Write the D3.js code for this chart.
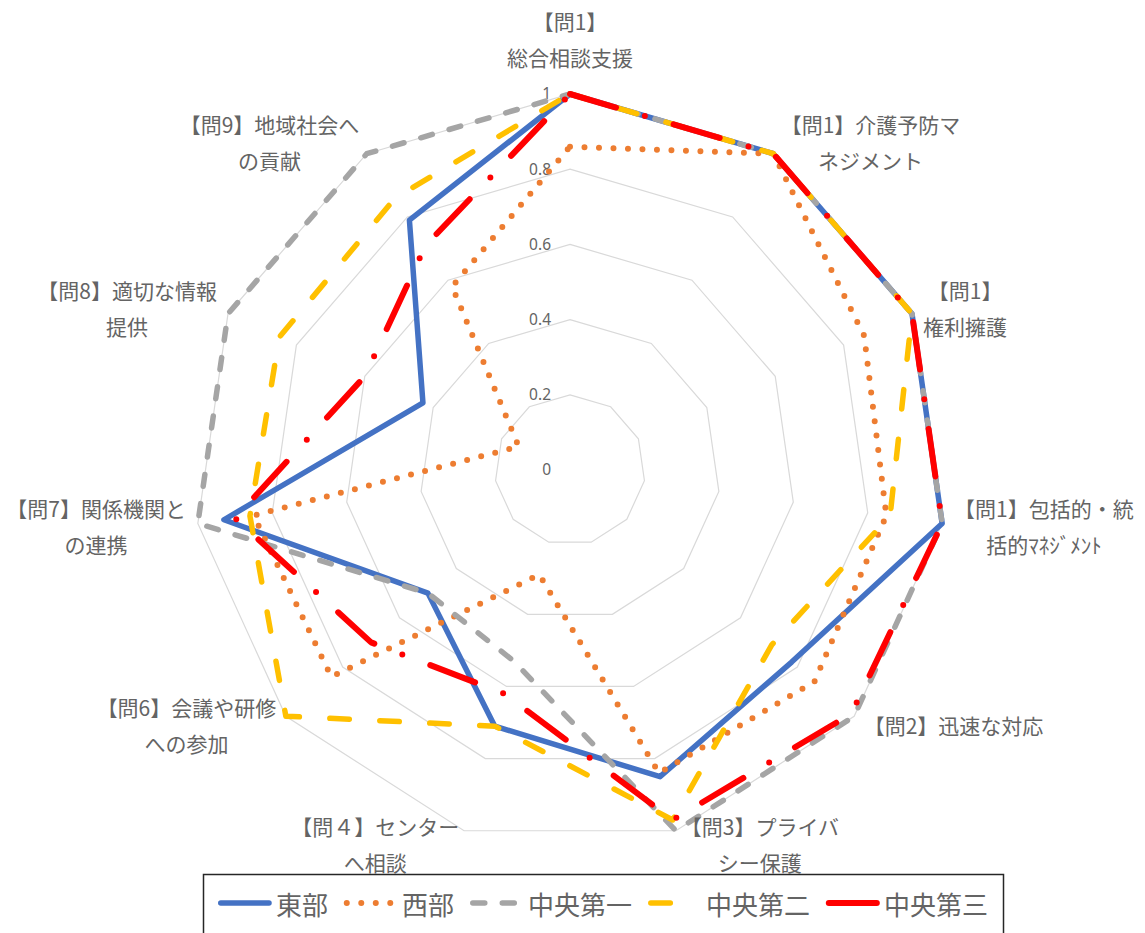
<!DOCTYPE html>
<html>
<head>
<meta charset="utf-8">
<script src="https://cdn.jsdelivr.net/npm/d3@7"></script>
<style>
  body { margin: 0; background: #fff; }
  svg { display: block; }
</style>
</head>
<body>
<svg width="1145" height="933"></svg>
<script>
// axis labels (already wrapped the way the chart shows them)
var categories = [
  ["【問1】", "総合相談支援"],
  ["【問1】介護予防マ", "ネジメント"],
  ["【問1】", "権利擁護"],
  ["【問1】包括的・統", "括的ﾏﾈｼﾞﾒﾝﾄ"],
  ["【問2】迅速な対応"],
  ["【問3】プライバ", "シー保護"],
  ["【問４】センター", "へ相談"],
  ["【問6】会議や研修", "への参加"],
  ["【問7】関係機関と", "の連携"],
  ["【問8】適切な情報", "提供"],
  ["【問9】地域社会へ", "の貢献"]
];

var seriesNames = ["東部", "西部", "中央第一", "中央第二", "中央第三"];

var toubu = [1, 1, 1, 1, 0.78, 0.85, 0.71, 0.5, 0.93, 0.43, 0.79];
var seibu = [0.86, 1, 0.86, 0.85, 0.86, 0.84, 0.29, 0.84, 0.85, 0.15, 0.58];
var chuo1 = [1, 1, 1, 1, 1, 1, 0.53, 0.5, 1, 1, 1];
var chuo2 = [1, 1, 1, 0.86, 0.71, 0.97, 0.71, 1, 0.86, 0.85, 0.86];
var chuo3 = [1, 1, 1, 1, 0.99, 0.97, 0.62, 0.7, 0.9, 0.6, 0.71];

var tickValues = [0, 0.2, 0.4, 0.6, 0.8, 1];
var tickLabels = ["0", "0.2", "0.4", "0.6", "0.8", "1"];

var allSeries = [toubu, seibu, chuo1, chuo2, chuo3];

// styles
var colors = ["#4472C4", "#ED7D31", "#A5A5A5", "#FFC000", "#FF0000"];
var dashes = [null, "0 14.5", "12 17.5", "19.5 30.5", "48 30 0 30"];
var widths = [5.5, 6, 5.5, 5.5, 6];

var jpFont = "'Noto Sans CJK JP', 'Noto Sans', sans-serif";
var textColor = "#646464";

var svg = d3.select("svg"),
  cx = 570,
  cy = 470,
  R = 376,
  n = categories.length,
  g = svg.append("g").attr("transform", "translate(" + cx + "," + cy + ")");

var r = d3.scaleLinear().domain([0, 1]).range([0, R]);
var angle = function(i) { return i * 2 * Math.PI / n; };

// grid rings
tickValues.slice(1).forEach(function(t) {
  g.append("path")
    .datum(d3.range(n))
    .attr("fill", "none")
    .attr("stroke", "#d9d9d9")
    .attr("stroke-width", 1.2)
    .attr("d", d3.lineRadial()
      .angle(function(i) { return angle(i); })
      .radius(function() { return r(t); })
      .curve(d3.curveLinearClosed));
});

// tick labels to the left of the vertical axis
g.selectAll(".tick")
  .data(tickValues)
  .enter().append("text")
  .attr("x", -19)
  .attr("y", function(d) { return -r(d); })
  .attr("dy", "0.35em")
  .attr("text-anchor", "end")
  .style("font-family", "'Noto Sans', sans-serif")
  .style("font-size", "15.5px")
  .style("fill", textColor)
  .text(function(d, i) { return tickLabels[i]; });

// series
var line = d3.lineRadial()
  .angle(function(d, i) { return angle(i); })
  .radius(function(d) { return r(d); })
  .curve(d3.curveLinearClosed);

allSeries.forEach(function(values, s) {
  g.append("path")
    .datum(values)
    .attr("fill", "none")
    .attr("stroke", colors[s])
    .attr("stroke-width", widths[s])
    .attr("stroke-linejoin", "round")
    .attr("stroke-linecap", "round")
    .attr("stroke-dasharray", dashes[s])
    .attr("d", line);
});

// category labels
var lineGap = 36;
categories.forEach(function(lines, i) {
  var a = angle(i),
    sn = Math.sin(a),
    cs = Math.cos(a),
    px = sn * (R + 10),
    py = -cs * (R + 10);

  var lab = g.append("g");
  var texts = lines.map(function(txt) {
    return lab.append("text")
      .attr("text-anchor", "middle")
      .attr("dominant-baseline", "central")
      .style("font-family", jpFont)
      .style("font-size", "21px")
      .style("fill", textColor)
      .text(txt);
  });
  var w = d3.max(texts, function(t) { return t.node().getComputedTextLength(); });

  var mx, top;
  if (Math.abs(sn) < 0.1) {
    mx = px;
    top = py - 27 - (lines.length - 1) * lineGap;
  } else {
    mx = sn > 0 ? px + 2 + w / 2 : px - 2 - w / 2;
    top = py - 4 * cs - (lines.length - 1) * lineGap / 2;
  }
  texts.forEach(function(t, k) {
    t.attr("x", mx).attr("y", top + k * lineGap);
  });
});

// legend
var legend = svg.append("g");
legend.append("rect")
  .attr("x", 203.5)
  .attr("y", 874.5)
  .attr("width", 800)
  .attr("height", 80)
  .attr("fill", "#fff")
  .attr("stroke", "#262626")
  .attr("stroke-width", 1.5);

var lx = 218, ly = 903;
seriesNames.forEach(function(name, s) {
  legend.append("line")
    .attr("x1", lx + 2.75)
    .attr("x2", lx + 51)
    .attr("y1", ly)
    .attr("y2", ly)
    .attr("stroke", colors[s])
    .attr("stroke-width", widths[s])
    .attr("stroke-linecap", "round")
    .attr("stroke-dasharray", dashes[s]);
  var t = legend.append("text")
    .attr("x", lx + 58)
    .attr("y", ly)
    .attr("dominant-baseline", "central")
    .style("font-family", jpFont)
    .style("font-size", "26px")
    .style("fill", textColor)
    .text(name);
  lx = lx + 58 + t.node().getComputedTextLength() + 16;
});
</script>
</body>
</html>
